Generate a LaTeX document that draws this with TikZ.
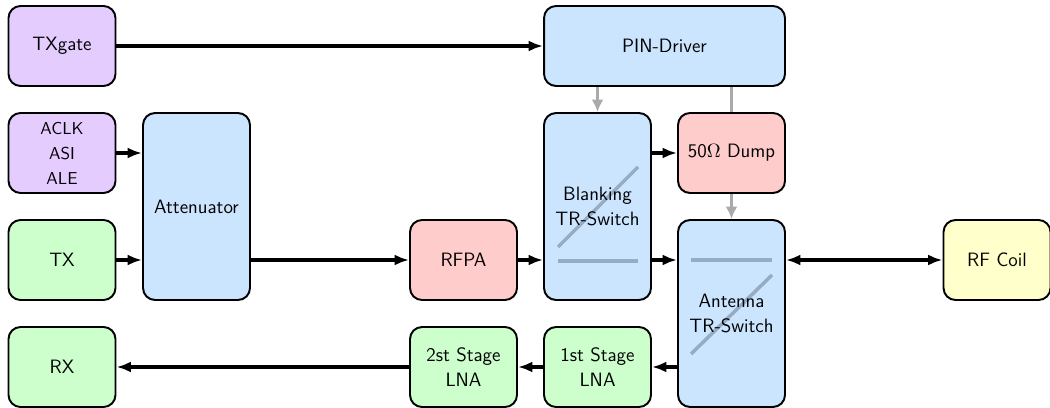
\documentclass[tikz,border=0pt]{standalone}
\usetikzlibrary{arrows.meta}
\definecolor{cpurple}{RGB}{229,204,255}
\definecolor{cblue}{RGB}{204,229,255}
\definecolor{cgreen}{RGB}{204,255,204}
\definecolor{cred}{RGB}{255,204,204}
\definecolor{cyellow}{RGB}{255,255,204}
\definecolor{ctrl}{RGB}{170,170,170}
\definecolor{swline}{RGB}{150,172,194}
\begin{document}
\begin{tikzpicture}[x=0.02cm,y=-0.02cm,
  font=\sffamily\fontsize{11}{14.2}\selectfont,
  box/.style={draw=black,line width=1.1pt,rounded corners=0.24cm,
    minimum width=2.14cm,minimum height=1.6cm,align=center,inner sep=0pt},
  tallbox/.style={box,minimum height=3.74cm},
  widebox/.style={box,minimum width=4.82cm},
  caption/.style={align=center,inner sep=0pt},
  sig/.style={line width=1.9pt,-{Latex[length=0.29cm,width=0.22cm]}},
  bisig/.style={line width=1.9pt,{Latex[length=0.29cm,width=0.22cm]}-{Latex[length=0.29cm,width=0.22cm]}},
  ctl/.style={draw=ctrl,line width=1.6pt},
  ctlarr/.style={ctl,-{Latex[length=0.25cm,width=0.24cm]}},
  switch/.style={draw=swline,line width=2pt}]
\useasboundingbox (0,0) rectangle (1050,408);

% left column: control and data ports
\node[box,fill=cpurple] (txgate) at (62,46) {TXgate};
\node[box,fill=cpurple,font=\sffamily\fontsize{9.8}{14.2}\selectfont] (aclk) at (62,153) {ACLK\\ASI\\ALE};
\node[box,fill=cgreen] (tx) at (62,260) {TX};
\node[box,fill=cgreen] (rx) at (62,367) {RX};

% transmit chain
\node[tallbox,fill=cblue] (att) at (196.5,206.5) {Attenuator};
\node[box,fill=cred] (rfpa) at (463.5,260) {RFPA};
\node[tallbox,fill=cblue] (blank) at (597.5,206.5) {};
\node[widebox,fill=cblue] (pin) at (664.5,46) {PIN-Driver};
\node[box,fill=cred] (dump) at (731.5,153) {50$\Omega$ Dump};
\node[tallbox,fill=cblue] (ant) at (731.5,313.5) {};
\node[box,fill=cyellow] (coil) at (997,260) {RF Coil};

% receive chain
\node[box,fill=cgreen] (lna1) at (597.5,367) {1st Stage\\LNA};
\node[box,fill=cgreen] (lna2) at (463.5,367) {2st Stage\\LNA};

% switch symbols, set under the switch captions
\draw[switch] (558,261) -- (638,261);
\draw[switch] (558,247) -- (638,167);
\draw[switch] (691,260) -- (772,260);
\draw[switch] (691,354) -- (772,275);
\node[caption] (blanktxt) at (blank.center) {Blanking\\TR-Switch};
\node[caption] (anttxt) at (ant.center) {Antenna\\TR-Switch};

% PIN driver control lines
\draw[ctlarr] (pin.south -| blank) -- (blank.north);
\draw[ctl] (pin.south -| dump) -- (dump.north);
\draw[ctlarr] (dump.south) -- (ant.north);

% signal paths
\draw[sig] (txgate) -- (txgate -| pin.west);
\draw[sig] (aclk) -- (aclk -| att.west);
\draw[sig] (tx) -- (tx -| att.west);
\draw[sig] (att.east |- rfpa) -- (rfpa);
\draw[sig] (rfpa) -- (rfpa -| blank.west);
\draw[sig] (blank.east |- dump) -- (dump);
\draw[sig] (blank.east |- coil) -- (ant.west |- coil);
\draw[bisig] (ant.east |- coil) -- (coil);
\draw[sig] (ant.west |- lna1) -- (lna1);
\draw[sig] (lna1) -- (lna2);
\draw[sig] (lna2) -- (rx);
\end{tikzpicture}
\end{document}
